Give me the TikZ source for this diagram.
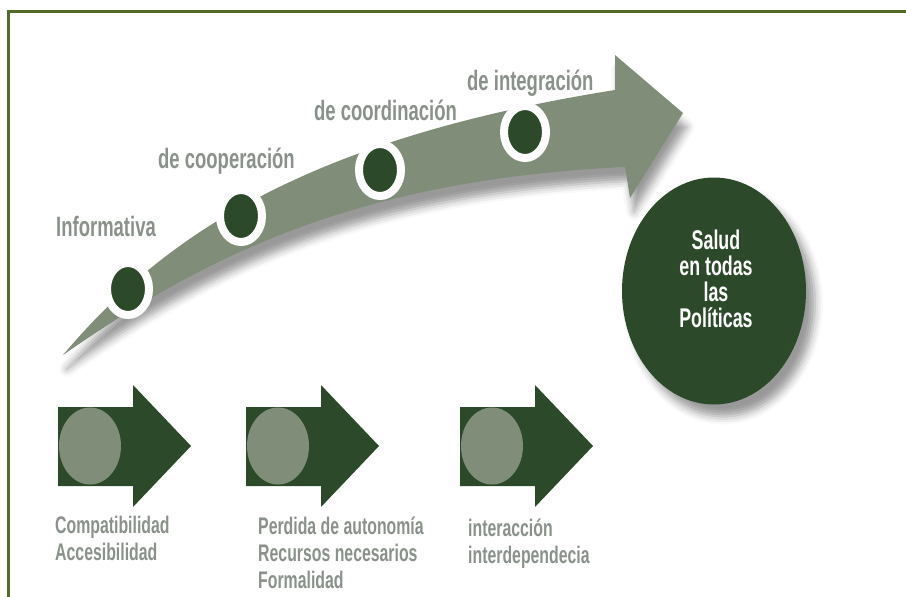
\documentclass[tikz,border=0pt]{standalone}
\usepackage{fontspec}
\newfontfamily\condfont{Liberation Sans}[FakeStretch=0.66]
\usepackage{tikz}
\usetikzlibrary{shapes.geometric,shadows.blur}

\definecolor{pine}{RGB}{44,73,42}
\definecolor{bandgray}{RGB}{128,142,121}
\definecolor{labelgray}{RGB}{138,145,138}
\definecolor{framegreen}{RGB}{84,106,42}

\tikzset{
  stepdot/.style = {ellipse, fill = pine, draw = white, line width = 8pt, minimum width = 42pt, minimum height = 52pt, inner sep = 0pt},
  steplabel/.style = {font = \condfont\bfseries\fontsize{28}{28}\selectfont, text = labelgray, anchor = base west, inner sep = 0pt},
  notes/.style = {font = \condfont\bfseries\fontsize{24}{27}\selectfont, text = labelgray, anchor = base west, align = left, inner sep = 0pt},
  innerdot/.style = {ellipse, fill = bandgray, minimum width = 62pt, minimum height = 77pt, inner sep = 0pt}
}

\begin{document}
\begin{tikzpicture}[x = 1pt, y = -1pt]
\useasboundingbox (0,0) rectangle (906,597);
\draw[framegreen, line width = 3pt] (8,597) -- (8,11) -- (906,11);

\fill[bandgray, blur shadow = {shadow xshift = 4pt, shadow yshift = -14pt, shadow blur radius = 8pt, shadow opacity = 40}]
  (63,355) .. controls (160,240) and (300,140) .. (615,90) -- (615,55) -- (683,113) -- (630,198)
  -- (625,167) .. controls (350,180) and (200,260) .. (63,355) -- cycle;

\node[stepdot] (1) at (128,289) {};
\node[stepdot] (2) at (241,216) {};
\node[stepdot] (3) at (380,170) {};
\node[stepdot] (4) at (525,132) {};

\node[steplabel] (11) at (56,236) {Informativa};
\node[steplabel] (12) at (158,168) {de cooperación};
\node[steplabel] (13) at (314,120) {de coordinación};
\node[steplabel] (14) at (467,90) {de integración};

\node[ellipse, fill = pine, minimum width = 184pt, minimum height = 227pt, inner sep = 0pt,
  blur shadow = {shadow xshift = 9pt, shadow yshift = -12pt, shadow blur radius = 8pt, shadow opacity = 40}] (30) at (714,291) {};
\node[font = \condfont\bfseries\fontsize{27}{26}\selectfont, text = white, align = center, inner sep = 0pt] (31) at (716,279) {Salud\\en todas\\las\\Políticas};

\foreach \x [count = \i] in {58,246,460} {
  \fill[pine] (\x,407) -- (\x+75,407) -- (\x+75,385) -- (\x+133,446) -- (\x+75,507) -- (\x+75,486) -- (\x,486) -- cycle;
  \node[innerdot] (4\i) at (\x+32,446) {};
}

% base of a multi-line node is its last line
\node[notes] (51) at (55,560) {Compatibilidad\\Accesibilidad};
\node[notes] (52) at (258,588) {Perdida de autonomía\\Recursos necesarios\\Formalidad};
\node[notes] (53) at (468,563) {interacción\\interdependecia};
\end{tikzpicture}
\end{document}
